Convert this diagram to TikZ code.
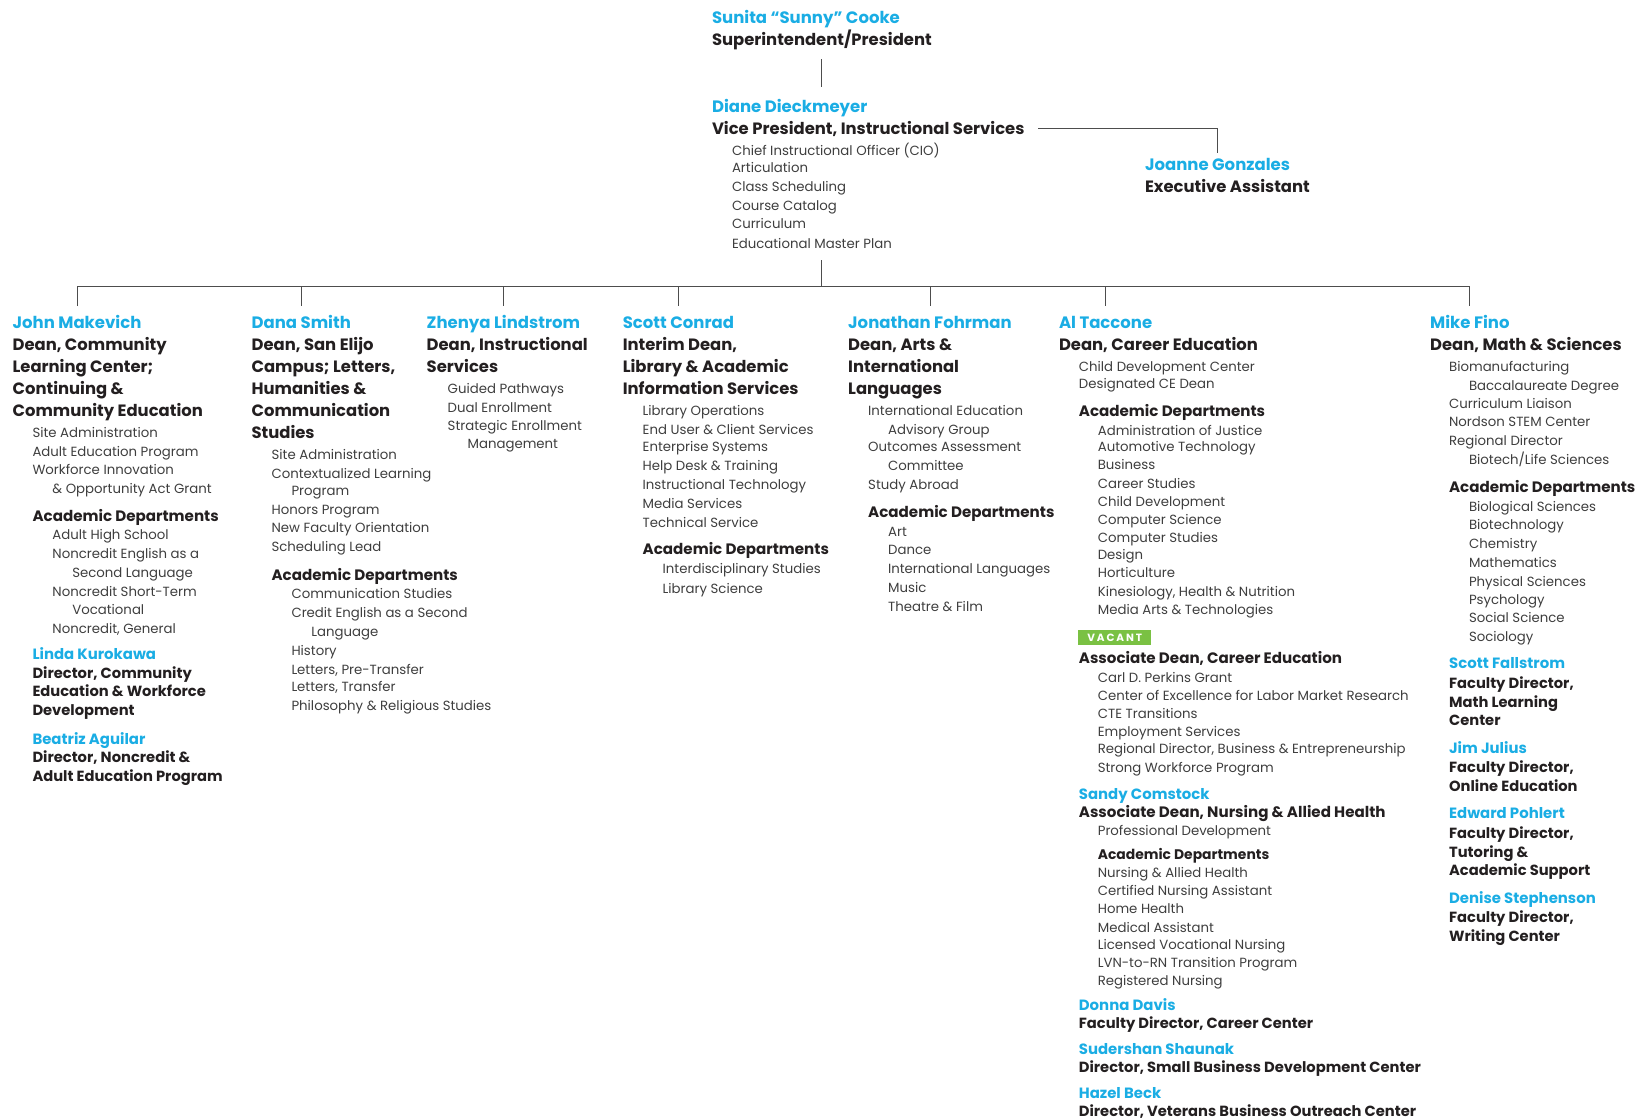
\documentclass[tikz,border=0pt]{standalone}
\usepackage{fontspec}
\setmainfont{Poppins}
\definecolor{namecyan}{HTML}{1AADE4}
\definecolor{ink}{HTML}{231F20}
\definecolor{subgray}{HTML}{3E3E3E}
\definecolor{rulegray}{HTML}{4D4D4D}
\definecolor{vacgreen}{HTML}{7AC143}
\newcounter{ln}
\newcommand\tline[4]{\stepcounter{ln}\edef\lnname{ln\arabic{ln}}\node[#1] (\lnname) at (#2,#3) {#4};}
\begin{document}
\begin{tikzpicture}[x=1pt,y=-1pt,
  base/.style={anchor=mid west, inner sep=0pt, outer sep=0pt, yshift=-3.5pt},
  nm/.style={base, font=\fontsize{16.5}{16.5}\selectfont\bfseries, text=namecyan},
  tt/.style={base, font=\fontsize{16.4}{16.4}\selectfont\bfseries, text=ink},
  nmb/.style={base, font=\fontsize{14.9}{14.9}\selectfont\bfseries, text=namecyan},
  ttb/.style={base, font=\fontsize{14.7}{14.7}\selectfont\bfseries, text=ink},
  ttc/.style={base, font=\fontsize{15.1}{15.1}\selectfont\bfseries, text=ink},
  ad/.style={base, font=\fontsize{15.1}{15.1}\selectfont\bfseries, text=ink},
  adb/.style={base, font=\fontsize{13.9}{13.9}\selectfont\bfseries, text=ink},
  it/.style={base, font=\fontsize{13.3}{13.3}\selectfont, text=subgray},
  conn/.style={draw=rulegray, line width=0.9pt},
  vac/.style={fill=vacgreen, text=white, anchor=north west, inner sep=0pt,
    minimum width=73pt, minimum height=15pt,
    font=\fontsize{10.5}{10.5}\selectfont\bfseries\addfontfeatures{LetterSpace=18}}]
\useasboundingbox (0,0) rectangle (1644,1119);

% ---- President and Vice President ----
\node[nm] (pn) at (712,16.8) {Sunita “Sunny” Cooke};
\node[tt] (pt) at (712,38.8) {Superintendent/President};
\node[nm] (vn) at (712,105.9) {Diane Dieckmeyer};
\node[tt] (vt) at (712,127.9) {Vice President, Instructional Services};
\tline{it}{732}{148.9}{Chief Instructional Officer (CIO)}
\tline{it}{732}{166.7}{Articulation}
\tline{it}{732}{185.6}{Class Scheduling}
\tline{it}{732}{204.5}{Course Catalog}
\tline{it}{732}{222.3}{Curriculum}
\node[it] (vlast) at (732,242.2) {Educational Master Plan};

\node[nm] (en) at (1145,164.6) {Joanne Gonzales};
\node[tt] (et) at (1145,186.6) {Executive Assistant};

% ---- Column 1 ----
\node[nm] (d1) at (12.6,321.9) {John Makevich};
\tline{tt}{12.6}{343.9}{Dean, Community}
\tline{tt}{12.6}{365.9}{Learning Center;}
\tline{tt}{12.6}{387.9}{Continuing \&}
\tline{tt}{12.6}{410.0}{Community Education}
\tline{it}{32.5}{430.9}{Site Administration}
\tline{it}{32.5}{449.8}{Adult Education Program}
\tline{it}{32.5}{468.7}{Workforce Innovation}
\tline{it}{52.4}{487.6}{\& Opportunity Act Grant}
\tline{ad}{32.5}{514.8}{Academic Departments}
\tline{it}{52.4}{533.7}{Adult High School}
\tline{it}{52.4}{552.6}{Noncredit English as a}
\tline{it}{72.3}{571.4}{Second Language}
\tline{it}{52.4}{590.3}{Noncredit Short-Term}
\tline{it}{72.3}{608.1}{Vocational}
\tline{it}{52.4}{627.0}{Noncredit, General}
\tline{nmb}{32.5}{653.2}{Linda Kurokawa}
\tline{ttb}{32.5}{672.1}{Director, Community}
\tline{ttb}{32.5}{689.9}{Education \& Workforce}
\tline{ttb}{32.5}{708.8}{Development}
\tline{nmb}{32.5}{738.1}{Beatriz Aguilar}
\tline{ttb}{32.5}{756.0}{Director, Noncredit \&}
\tline{ttb}{32.5}{774.8}{Adult Education Program}

% ---- Column 2 ----
\node[nm] (d2) at (251.6,321.9) {Dana Smith};
\tline{tt}{251.6}{343.9}{Dean, San Elijo}
\tline{tt}{251.6}{365.9}{Campus; Letters,}
\tline{tt}{251.6}{387.9}{Humanities \&}
\tline{tt}{251.6}{410.0}{Communication}
\tline{tt}{251.6}{432.0}{Studies}
\tline{it}{271.6}{453.0}{Site Administration}
\tline{it}{271.6}{471.8}{Contextualized Learning}
\tline{it}{291.5}{489.6}{Program}
\tline{it}{271.6}{508.5}{Honors Program}
\tline{it}{271.6}{526.3}{New Faculty Orientation}
\tline{it}{271.6}{545.2}{Scheduling Lead}
\tline{ad}{271.6}{574.6}{Academic Departments}
\tline{it}{291.5}{592.4}{Communication Studies}
\tline{it}{291.5}{611.3}{Credit English as a Second}
\tline{it}{311.4}{630.1}{Language}
\tline{it}{291.5}{649.0}{History}
\tline{it}{291.5}{667.9}{Letters, Pre-Transfer}
\tline{it}{291.5}{685.7}{Letters, Transfer}
\tline{it}{291.5}{704.6}{Philosophy \& Religious Studies}

% ---- Column 3 ----
\node[nm] (d3) at (426.7,321.9) {Zhenya Lindstrom};
\tline{tt}{426.7}{343.9}{Dean, Instructional}
\tline{tt}{426.7}{365.9}{Services}
\tline{it}{447.7}{386.9}{Guided Pathways}
\tline{it}{447.7}{405.8}{Dual Enrollment}
\tline{it}{447.7}{424.6}{Strategic Enrollment}
\tline{it}{467.6}{442.5}{Management}

% ---- Column 4 ----
\node[nm] (d4) at (622.8,321.9) {Scott Conrad};
\tline{tt}{622.8}{343.9}{Interim Dean,}
\tline{tt}{622.8}{365.9}{Library \& Academic}
\tline{tt}{622.8}{387.9}{Information Services}
\tline{it}{642.7}{408.9}{Library Operations}
\tline{it}{642.7}{427.8}{End User \& Client Services}
\tline{it}{642.7}{445.6}{Enterprise Systems}
\tline{it}{642.7}{464.5}{Help Desk \& Training}
\tline{it}{642.7}{483.4}{Instructional Technology}
\tline{it}{642.7}{502.2}{Media Services}
\tline{it}{642.7}{521.1}{Technical Service}
\tline{ad}{642.7}{548.4}{Academic Departments}
\tline{it}{662.7}{567.2}{Interdisciplinary Studies}
\tline{it}{662.7}{587.2}{Library Science}

% ---- Column 5 ----
\node[nm] (d5) at (848.2,321.9) {Jonathan Fohrman};
\tline{tt}{848.2}{343.9}{Dean, Arts \&}
\tline{tt}{848.2}{365.9}{International}
\tline{tt}{848.2}{387.9}{Languages}
\tline{it}{868.2}{408.9}{International Education}
\tline{it}{888.1}{427.8}{Advisory Group}
\tline{it}{868.2}{445.6}{Outcomes Assessment}
\tline{it}{888.1}{464.5}{Committee}
\tline{it}{868.2}{483.4}{Study Abroad}
\tline{ad}{868.2}{511.7}{Academic Departments}
\tline{it}{888.1}{530.5}{Art}
\tline{it}{888.1}{548.4}{Dance}
\tline{it}{888.1}{567.2}{International Languages}
\tline{it}{888.1}{586.1}{Music}
\tline{it}{888.1}{605.0}{Theatre \& Film}

% ---- Column 6 ----
\node[nm] (d6) at (1059,321.9) {Al Taccone};
\tline{tt}{1059}{343.9}{Dean, Career Education}
\tline{it}{1078.9}{364.9}{Child Development Center}
\tline{it}{1078.9}{382.7}{Designated CE Dean}
\tline{ad}{1078.9}{410.0}{Academic Departments}
\tline{it}{1097.8}{428.8}{Administration of Justice}
\tline{it}{1097.8}{445.6}{Automotive Technology}
\tline{it}{1097.8}{463.4}{Business}
\tline{it}{1097.8}{482.3}{Career Studies}
\tline{it}{1097.8}{500.1}{Child Development}
\tline{it}{1097.8}{518.0}{Computer Science}
\tline{it}{1097.8}{535.8}{Computer Studies}
\tline{it}{1097.8}{553.6}{Design}
\tline{it}{1097.8}{571.4}{Horticulture}
\tline{it}{1097.8}{590.3}{Kinesiology, Health \& Nutrition}
\tline{it}{1097.8}{608.1}{Media Arts \& Technologies}
\node[vac] (vacant) at (1078,630) {VACANT};
\tline{ttc}{1078.9}{657.4}{Associate Dean, Career Education}
\tline{it}{1097.8}{676.3}{Carl D. Perkins Grant}
\tline{it}{1097.8}{694.1}{Center of Excellence for Labor Market Research}
\tline{it}{1097.8}{711.9}{CTE Transitions}
\tline{it}{1097.8}{729.8}{Employment Services}
\tline{it}{1097.8}{747.6}{Regional Director, Business \& Entrepreneurship}
\tline{it}{1097.8}{766.5}{Strong Workforce Program}
\tline{nmb}{1078.9}{793.7}{Sandy Comstock}
\tline{ttc}{1078.9}{811.5}{Associate Dean, Nursing \& Allied Health}
\tline{it}{1097.8}{829.4}{Professional Development}
\tline{adb}{1097.8}{853.5}{Academic Departments}
\tline{it}{1097.8}{871.3}{Nursing \& Allied Health}
\tline{it}{1097.8}{889.1}{Certified Nursing Assistant}
\tline{it}{1097.8}{907.0}{Home Health}
\tline{it}{1097.8}{925.8}{Medical Assistant}
\tline{it}{1097.8}{943.7}{Licensed Vocational Nursing}
\tline{it}{1097.8}{961.5}{LVN-to-RN Transition Program}
\tline{it}{1097.8}{979.3}{Registered Nursing}
\tline{nmb}{1078.9}{1004.5}{Donna Davis}
\tline{ttb}{1078.9}{1022.3}{Faculty Director, Career Center}
\tline{nmb}{1078.9}{1048.5}{Sudershan Shaunak}
\tline{ttb}{1078.9}{1066.3}{Director, Small Business Development Center}
\tline{nmb}{1078.9}{1092.5}{Hazel Beck}
\tline{ttb}{1078.9}{1110.4}{Director, Veterans Business Outreach Center}

% ---- Column 7 ----
\node[nm] (d7) at (1430.2,321.9) {Mike Fino};
\tline{tt}{1430.2}{343.9}{Dean, Math \& Sciences}
\tline{it}{1449.1}{364.9}{Biomanufacturing}
\tline{it}{1469.0}{383.8}{Baccalaureate Degree}
\tline{it}{1449.1}{402.6}{Curriculum Liaison}
\tline{it}{1449.1}{420.4}{Nordson STEM Center}
\tline{it}{1449.1}{439.3}{Regional Director}
\tline{it}{1469.0}{458.2}{Biotech/Life Sciences}
\tline{ad}{1449.1}{486.5}{Academic Departments}
\tline{it}{1469.0}{505.4}{Biological Sciences}
\tline{it}{1469.0}{523.2}{Biotechnology}
\tline{it}{1469.0}{542.1}{Chemistry}
\tline{it}{1469.0}{560.9}{Mathematics}
\tline{it}{1469.0}{579.8}{Physical Sciences}
\tline{it}{1469.0}{598.7}{Psychology}
\tline{it}{1469.0}{616.5}{Social Science}
\tline{it}{1469.0}{635.4}{Sociology}
\tline{nmb}{1449.1}{662.7}{Scott Fallstrom}
\tline{ttb}{1449.1}{682.6}{Faculty Director,}
\tline{ttb}{1449.1}{701.4}{Math Learning}
\tline{ttb}{1449.1}{719.3}{Center}
\tline{nmb}{1449.1}{747.6}{Jim Julius}
\tline{ttb}{1449.1}{766.5}{Faculty Director,}
\tline{ttb}{1449.1}{785.3}{Online Education}
\tline{nmb}{1449.1}{812.6}{Edward Pohlert}
\tline{ttb}{1449.1}{832.5}{Faculty Director,}
\tline{ttb}{1449.1}{851.4}{Tutoring \&}
\tline{ttb}{1449.1}{869.2}{Academic Support}
\tline{nmb}{1449.1}{897.5}{Denise Stephenson}
\tline{ttb}{1449.1}{916.4}{Faculty Director,}
\tline{ttb}{1449.1}{935.3}{Writing Center}

% ---- Connectors ----
\coordinate (topA) at (0,59);
\coordinate (topB) at (0,87);
\coordinate (vpEnd) at (0,260);
\coordinate (busY) at (0,286);
\coordinate (dropY) at (0,306);
\draw[conn] (pt |- topA) -- (pt |- topB);
\draw[conn] ([xshift=14pt]vt.east) -| ([yshift=6pt]en.north);
\draw[conn] (pt |- vpEnd) -- (pt |- busY);
\draw[conn] (d1 |- dropY) -- (d1 |- busY) -- (d7 |- busY) -- (d7 |- dropY);
\foreach \d in {d2,d3,d4,d5,d6}
  \draw[conn] (\d |- busY) -- (\d |- dropY);
\end{tikzpicture}
\end{document}
